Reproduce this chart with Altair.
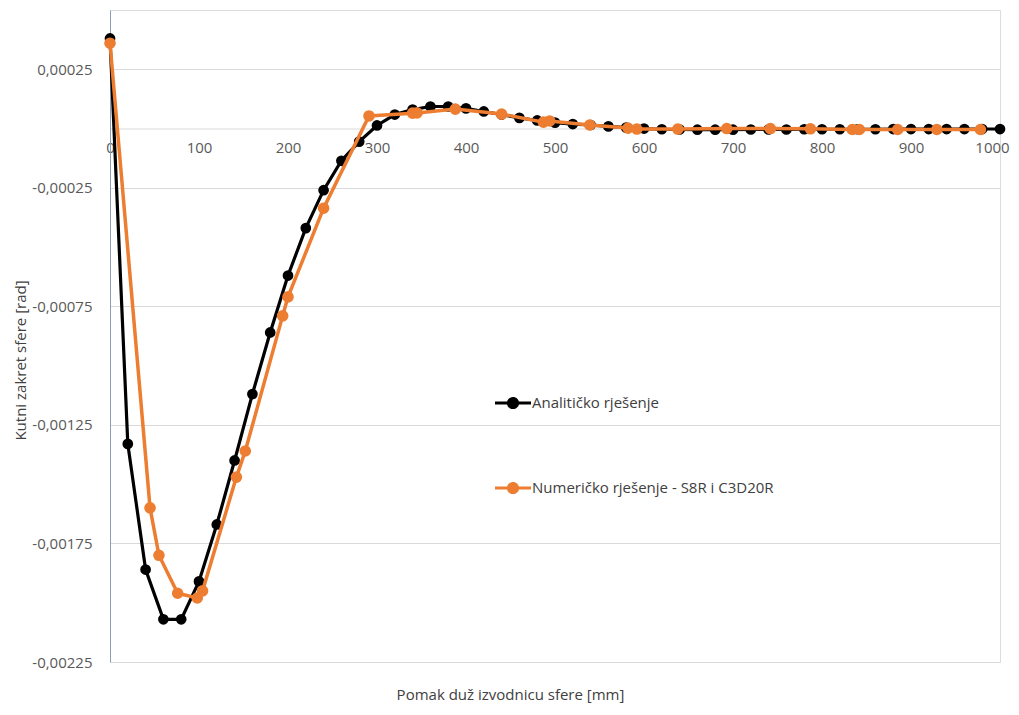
import altair as alt
import pandas as pd

# Analytical solution (black)
ana_x = [0, 20, 40, 60, 80, 100, 120, 140, 160, 180, 200, 220, 240, 260, 280, 300,
         320, 340, 360, 380, 400, 420, 440, 460, 480, 500, 520, 540, 560, 580, 600,
         620, 640, 660, 680, 700, 720, 740, 760, 780, 800, 820, 840, 860, 880, 900,
         920, 940, 960, 980, 1000]
ana_y = [0.00038, -0.00133, -0.00186, -0.00207, -0.00207, -0.00191, -0.00167, -0.00140,
         -0.00112, -0.00086, -0.00062, -0.00042, -0.00026, -0.000136, -0.000055, 0.000013,
         0.000059, 0.000080, 0.000093, 0.000093, 0.000085, 0.000072, 0.000059, 0.000045,
         0.000034, 0.000025, 0.000019, 0.000015, 0.000009, 0.000004, 0.000000,
         -0.000003, -0.000004, -0.000005, -0.000005, -0.000005, -0.000004, -0.000004,
         -0.000004, -0.000003, -0.000003, -0.000003, -0.000003, -0.000003, -0.000002,
         -0.000002, -0.000002, -0.000002, -0.000002, -0.000002, -0.000002]

# Numerical solution (orange)
num_x = [0, 45, 55, 76, 98, 104, 142, 152, 194, 200, 240, 291, 340, 345, 388, 440,
         487, 494, 539, 582, 592, 638, 693, 742, 787, 834, 842, 885, 929, 978]
num_y = [0.00036, -0.00160, -0.00180, -0.00196, -0.00198, -0.00195, -0.00147, -0.00136,
         -0.00079, -0.00071, -0.000336, 0.000053, 0.000065, 0.000066, 0.000082, 0.000061,
         0.000027, 0.000032, 0.000015, 0.000002, -0.000002, -0.000002, 0.000000,
         0.000000, -0.000001, -0.000004, -0.000004, -0.000004, -0.000004, -0.000004]

s_ana = "Analitičko rješenje"
s_num = "Numeričko rješenje - S8R i C3D20R"
series_names = [s_ana, s_num]
series_colors = ["#000000", "#ED7D31"]

y_ticks = [0.00025, -0.00025, -0.00075, -0.00125, -0.00175, -0.00225]
x_ticks = [0, 100, 200, 300, 400, 500, 600, 700, 800, 900, 1000]

df = pd.concat([
    pd.DataFrame({"x": ana_x, "y": ana_y, "s": s_ana}),
    pd.DataFrame({"x": num_x, "y": num_y, "s": s_num}),
], ignore_index=True)

FONT = "Open Sans"
W, H = 890, 652

legend_path = ("M-1,-0.085 L1,-0.085 L1,0.085 L-1,0.085 Z "
               "M-0.34,0 A0.34,0.34 0 1,1 0.34,0 A0.34,0.34 0 1,1 -0.34,0 Z")

color_scale = alt.Scale(domain=series_names, range=series_colors)

leg = alt.Legend(
    title=None, orient="none", legendX=385, legendY=375,
    symbolType=legend_path, symbolSize=1296, symbolStrokeWidth=0,
    symbolOpacity=1, labelFont=FONT, labelFontSize=15, labelColor="#404040",
    labelOffset=1, rowPadding=59, padding=0, direction="vertical",
    labelLimit=400,
)

xenc = alt.X(
    "x:Q",
    scale=alt.Scale(domain=[0, 1000], nice=False, zero=False),
    axis=alt.Axis(
        values=x_ticks, format="d", offset=-533.5, ticks=False, tickSize=0, grid=False,
        domainColor="#d9d9d9", domainWidth=1,
        labelFont=FONT, labelFontSize=15, labelColor="#595959",
        labelPadding=12, labelFlush=False, labelOverlap=False,
        labelOffset={"condition": {"test": "datum.value == 1000", "value": -8}, "value": 0},
        title="Pomak duž izvodnicu sfere [mm]", titleFont=FONT, titleFontSize=15,
        titleFontWeight="normal", titleColor="#404040",
        titleX=400, titleY=566, titleBaseline="middle", titleAnchor="middle",
    ),
)
yenc = alt.Y(
    "y:Q",
    scale=alt.Scale(domain=[-0.00225, 0.0005], nice=False, zero=False),
    axis=alt.Axis(
        values=y_ticks, ticks=False, tickSize=0, grid=True,
        gridColor="#d9d9d9", gridWidth=1,
        domainColor="#8aa0b8", domainWidth=1,
        labelFont=FONT, labelFontSize=15, labelColor="#595959",
        labelPadding=18, labelFlush=False, labelOverlap=False,
        labelExpr="replace(replace(format(datum.value, '.5f'), '.', ','), '\u2212', '-')",
        title="Kutni zakret sfere [rad]", titleFont=FONT, titleFontSize=15,
        titleFontWeight="normal", titleColor="#404040",
        titleX=-90, titleY=350, titleBaseline="middle", titleAngle=270,
    ),
)

base = alt.Chart(df).encode(x=xenc, y=yenc)

layers = []
widths = {s_ana: 3.2, s_num: 3.5}
sizes = {s_ana: 115, s_num: 135}
for s, c in zip(series_names, series_colors):
    sub = base.transform_filter(alt.datum.s == s)
    layers.append(
        sub.mark_line(strokeWidth=widths[s], color=c)
    )
    layers.append(
        sub.mark_point(filled=True, size=sizes[s], opacity=1, strokeWidth=0).encode(
            color=alt.Color("s:N", scale=color_scale, legend=leg)
        )
    )

chart = alt.layer(*layers).properties(
    width=W, height=H,
    autosize=alt.AutoSizeParams(type="none"),
    padding={"left": 102, "top": 2, "right": 11, "bottom": 45},
).configure_view(stroke=None).configure(background="white")

chart.save("out.html", embed_options={"renderer": "svg", "actions": False})
